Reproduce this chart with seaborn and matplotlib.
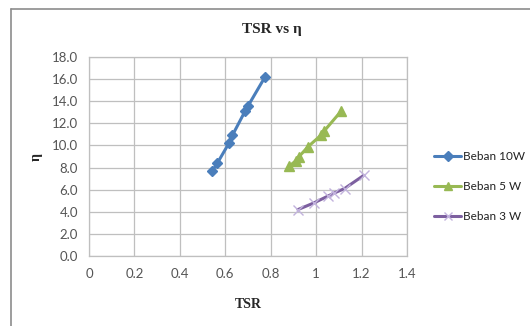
import matplotlib
matplotlib.use("Agg")
import matplotlib.pyplot as plt
import seaborn as sns
import pandas as pd
from matplotlib.lines import Line2D

sns.set_theme(style="whitegrid")
plt.rcParams['font.family'] = ['Lato', 'DejaVu Sans']

# Data
tsr_10w = [0.543, 0.565, 0.616, 0.631, 0.687, 0.701, 0.775]
eta_10w = [7.7, 8.4, 10.2, 10.9, 13.1, 13.6, 16.2]
tsr_5w = [0.88, 0.91, 0.925, 0.965, 1.02, 1.035, 1.11]
eta_5w = [8.1, 8.6, 9.0, 9.9, 10.9, 11.3, 13.1]
tsr_3w = [0.92, 0.99, 1.05, 1.08, 1.125, 1.21]
eta_3w = [4.2, 4.8, 5.4, 5.7, 6.1, 7.3]
series_names = ["Beban 10W", "Beban 5 W", "Beban 3 W"]
x_ticks = [0, 0.2, 0.4, 0.6, 0.8, 1, 1.2, 1.4]
x_tick_labels = ["0", "0.2", "0.4", "0.6", "0.8", "1", "1.2", "1.4"]
y_ticks = [0, 2, 4, 6, 8, 10, 12, 14, 16, 18]
y_tick_labels = ["0.0", "2.0", "4.0", "6.0", "8.0", "10.0", "12.0", "14.0", "16.0", "18.0"]

colors = ["#4a7ebb", "#98b954", "#7d60a0"]
markers = ["D", "^", "x"]
msizes = [5.5, 7, 7]

fig = plt.figure(figsize=(5.30, 3.26), dpi=100)
ax = fig.add_axes([89/530, 1-256/326, (407-89)/530, (256-57)/326])
ax.set_facecolor("white")

data = [(tsr_10w, eta_10w), (tsr_5w, eta_5w), (tsr_3w, eta_3w)]
for (xs, ys), name, c, m, ms in zip(data, series_names, colors, markers, msizes):
    df = pd.DataFrame({"TSR": xs, "eta": ys})
    mec = "#c2b3dd" if m == "x" else c
    sns.lineplot(data=df, x="TSR", y="eta", ax=ax, color=c, lw=2.2,
                 marker=m, markersize=ms, markeredgecolor=mec, markerfacecolor=c,
                 markeredgewidth=1.0, sort=False, legend=False)

ax.set_xlim(0, 1.4)
ax.set_ylim(0, 18)
ax.set_xticks(x_ticks)
ax.set_xticklabels(x_tick_labels)
ax.set_yticks(y_ticks)
ax.set_yticklabels(y_tick_labels)
ax.tick_params(axis='both', length=0, labelsize=9.5, colors="#555555")
ax.tick_params(axis='x', pad=9)
ax.tick_params(axis='y', pad=8)
ax.grid(True, color="#bfbfbf", lw=0.9)
for s in ax.spines.values():
    s.set_color("#bfbfbf")
    s.set_linewidth(0.9)
ax.set_xlabel("")
ax.set_ylabel("")

serif = ['Liberation Serif', 'DejaVu Serif']
fig.text(272/530, 1-30/326, "TSR vs η", ha="center", va="center",
         fontsize=11, fontweight="bold", family=serif)
fig.text(248/530, 1-305/326, "TSR", ha="center", va="center",
         fontsize=10, fontweight="bold", family=serif)
fig.text(36/530, 1-157/326, "η", ha="center", va="center", rotation=90,
         fontsize=10, fontweight="bold", family=serif)

handles = [Line2D([0], [0], color=c, lw=2.2, marker=m, markersize=ms*0.85,
                  markerfacecolor=c,
                  markeredgecolor=("#c2b3dd" if m == "x" else c))
           for c, m, ms in zip(colors, markers, msizes)]
leg = fig.legend(handles, series_names, loc="upper left",
                 bbox_to_anchor=(434/530, 1-151/326), frameon=False,
                 fontsize=8.5, handlelength=2.3, handletextpad=0.15,
                 labelspacing=1.6, borderaxespad=0, borderpad=0)
for t in leg.get_texts():
    t.set_color("#222222")

# chart area border
fig.add_artist(Line2D([11/530, 11/530], [0, 1-9/326], color="#8c8c8c", lw=1.2))
fig.add_artist(Line2D([11/530, 1], [1-9/326, 1-9/326], color="#8c8c8c", lw=1.2))

fig.savefig("out.png", dpi=100)
